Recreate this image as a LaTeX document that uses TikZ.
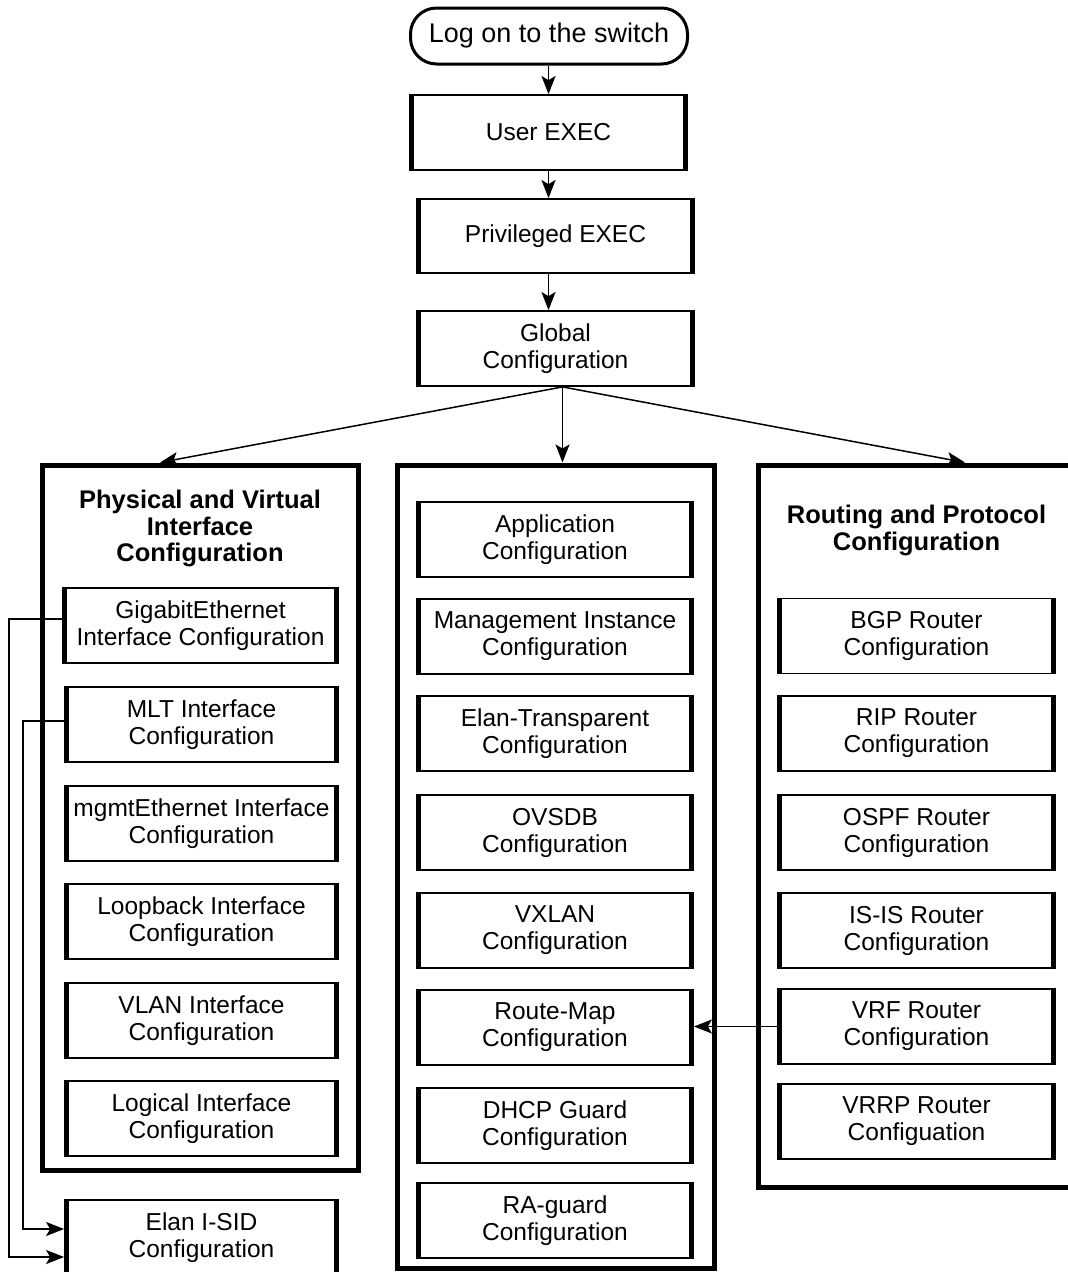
\documentclass[tikz,border=0pt]{standalone}
\usepackage{fontspec}
\setmainfont{Liberation Sans}
\usetikzlibrary{arrows.meta,calc}
\newcommand\nrmtext{\fontsize{24.5pt}{27pt}\selectfont}
\newcommand\ttlfont{\fontsize{25.5pt}{26.5pt}\selectfont\bfseries}
\begin{document}
\begin{tikzpicture}[x=1pt,y=-1pt,
  cfgbox/.style={draw, line width=1.8pt, minimum width=276pt, minimum height=75pt,
    inner sep=0pt, align=center, font=\nrmtext,
    path picture={\draw[line width=8pt]
      (path picture bounding box.north west) -- (path picture bounding box.south west)
      (path picture bounding box.north east) -- (path picture bounding box.south east);}},
  panel/.style={draw, line width=5pt, inner sep=0pt},
  ttl/.style={align=center, font=\ttlfont, inner sep=0pt},
  arr/.style={line width=1.5pt, -{Stealth[length=18pt,width=14pt,inset=4pt]}},
]
\useasboundingbox[fill=white] (0,0) rectangle (1068,1272);

% top chain
\node[draw, line width=3pt, rounded corners=26pt, minimum width=277pt, minimum height=56pt,
  inner sep=0pt, font=\fontsize{27pt}{30pt}\selectfont] (logon) at (549,36) {Log on to the switch};
\node[cfgbox, minimum width=277pt] (user) at (548.5,132.5) {User EXEC};
\node[cfgbox, minimum width=277pt, minimum height=74pt] (priv) at (555.5,236) {Privileged EXEC};
\node[cfgbox, minimum width=277pt] (glob) at (555.5,348.5) {Global\\Configuration};

\draw[arr] (logon.south -| user.north) -- (user.north);
\draw[arr] (user.south) -- (user.south |- priv.north);
\draw[arr] (user.south |- priv.south) -- (user.south |- glob.north);

% panels
\node[panel, minimum width=316pt, minimum height=705pt] (pl) at (200,817.5) {};
\node[panel, minimum width=317pt, minimum height=803pt] (pm) at (555.5,866.5) {};
\node[panel, minimum width=317pt, minimum height=722pt] (pr) at (916.5,826) {};

\coordinate (gs) at ([xshift=7pt]glob.south);
\draw[arr] (gs) -- ([xshift=-40pt]pl.north);
\draw[arr] (gs) -- (gs |- pm.north);
\draw[arr] (gs) -- ([xshift=48.5pt]pr.north);

\node[ttl] (tl) at (200,528.5) {Physical and Virtual\\Interface\\Configuration};
\node[ttl] (tr) at (916.5,530.5) {Routing and Protocol\\Configuration};

% left column
\node[cfgbox, minimum width=275pt] (gig) at (200.5,625.5) {GigabitEthernet\\Interface Configuration};
\node[cfgbox, minimum width=273pt] (mlt) at (201.5,724.5) {MLT Interface\\Configuration};
\node[cfgbox, minimum width=273pt] (mgmt) at (201.5,823.5) {mgmtEthernet Interface\\Configuration};
\node[cfgbox, minimum width=273pt] (loop) at (201.5,921.5) {Loopback Interface\\Configuration};
\node[cfgbox, minimum width=273pt] (vlan) at (201.5,1020.5) {VLAN Interface\\Configuration};
\node[cfgbox, minimum width=273pt] (logi) at (201.5,1118.5) {Logical Interface\\Configuration};
\node[cfgbox, minimum width=273pt] (elan) at (201.5,1237.5) {Elan I-SID\\Configuration};

% middle column
\node[cfgbox] (app) at (555,539.5) {Application\\Configuration};
\node[cfgbox] (mi) at (555,636.5) {Management Instance\\Configuration};
\node[cfgbox] (et) at (555,733.5) {Elan-Transparent\\Configuration};
\node[cfgbox] (ovs) at (555,832.5) {OVSDB\\Configuration};
\node[cfgbox] (vx) at (555,930.5) {VXLAN\\Configuration};
\node[cfgbox] (rmap) at (555,1027.5) {Route-Map\\Configuration};
\node[cfgbox] (dhcp) at (555,1125.5) {DHCP Guard\\Configuration};
\node[cfgbox] (ra) at (555,1220.5) {RA-guard\\Configuration};

% right column
\node[cfgbox, minimum width=277pt] (bgp) at (916.5,636) {BGP Router\\Configuration};
\node[cfgbox, minimum width=277pt] (rip) at (916.5,733.5) {RIP Router\\Configuration};
\node[cfgbox, minimum width=277pt] (ospf) at (916.5,832.5) {OSPF Router\\Configuration};
\node[cfgbox, minimum width=277pt] (isis) at (916.5,930.5) {IS-IS Router\\Configuration};
\node[cfgbox, minimum width=277pt] (vrf) at (916.5,1026.5) {VRF Router\\Configuration};
\node[cfgbox, minimum width=277pt] (vrrp) at (916.5,1121.5) {VRRP Router\\Configuation};

% connectors
\draw[arr] (vrf.west) -- (vrf.west -| rmap.east);
\draw[arr] ([yshift=6.5pt]gig.west) -- ++(-53,0) |- ([yshift=-19.5pt]elan.west);
\draw[arr] ([yshift=3.5pt]mlt.west) -- ++(-41,0) |- ([yshift=8.5pt]elan.west);
\end{tikzpicture}
\end{document}
